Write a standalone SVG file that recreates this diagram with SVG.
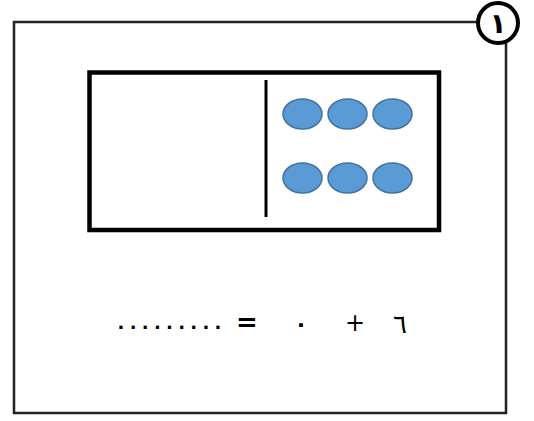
<svg xmlns="http://www.w3.org/2000/svg" width="534" height="421" viewBox="0 0 534 421">
<style>
.frame{fill:none;stroke:#222;stroke-width:2.5}
.box{fill:none;stroke:#000;stroke-width:4.5}
.dot{fill:#5B9BD5;stroke:#41719C;stroke-width:1.5}
.t{font-family:"DejaVu Sans","Liberation Sans",sans-serif;fill:#000;text-anchor:middle}
</style>
<rect width="534" height="421" fill="#fff"/>
<g id="frame">
<path class="frame" d="M477 22 H14 V413 H506 V42"/>
</g>
<g id="badge">
<circle cx="498" cy="23" r="20" fill="#fff" stroke="#000" stroke-width="4"/>
<text class="t" x="498" y="33" font-size="28" font-weight="bold">١</text>
</g>
<g id="tenframe">
<rect class="box" x="89.5" y="72.5" width="349.5" height="157.5"/>
<line x1="266" y1="80" x2="266" y2="217" stroke="#000" stroke-width="3"/>
</g>
<g id="counters">
<ellipse class="dot" cx="302.5" cy="114" rx="19.5" ry="15"/>
<ellipse class="dot" cx="347.5" cy="114" rx="19.5" ry="15"/>
<ellipse class="dot" cx="392.5" cy="114" rx="19.5" ry="15"/>
<ellipse class="dot" cx="302.5" cy="178" rx="19.5" ry="15"/>
<ellipse class="dot" cx="347.5" cy="178" rx="19.5" ry="15"/>
<ellipse class="dot" cx="392.5" cy="178" rx="19.5" ry="15"/>
</g>
<g id="equation">
<text class="t" x="117.5" y="329" font-size="18" font-weight="bold" letter-spacing="5.3" style="text-anchor:start">.........</text>
<text class="t" x="247" y="331" font-size="26" font-weight="bold">=</text>
<text class="t" x="301" y="331" font-size="22" font-weight="bold">٠</text>
<text class="t" x="355" y="331" font-size="24">+</text>
<text class="t" x="400" y="333" font-size="26">٦</text>
</g>
</svg>
